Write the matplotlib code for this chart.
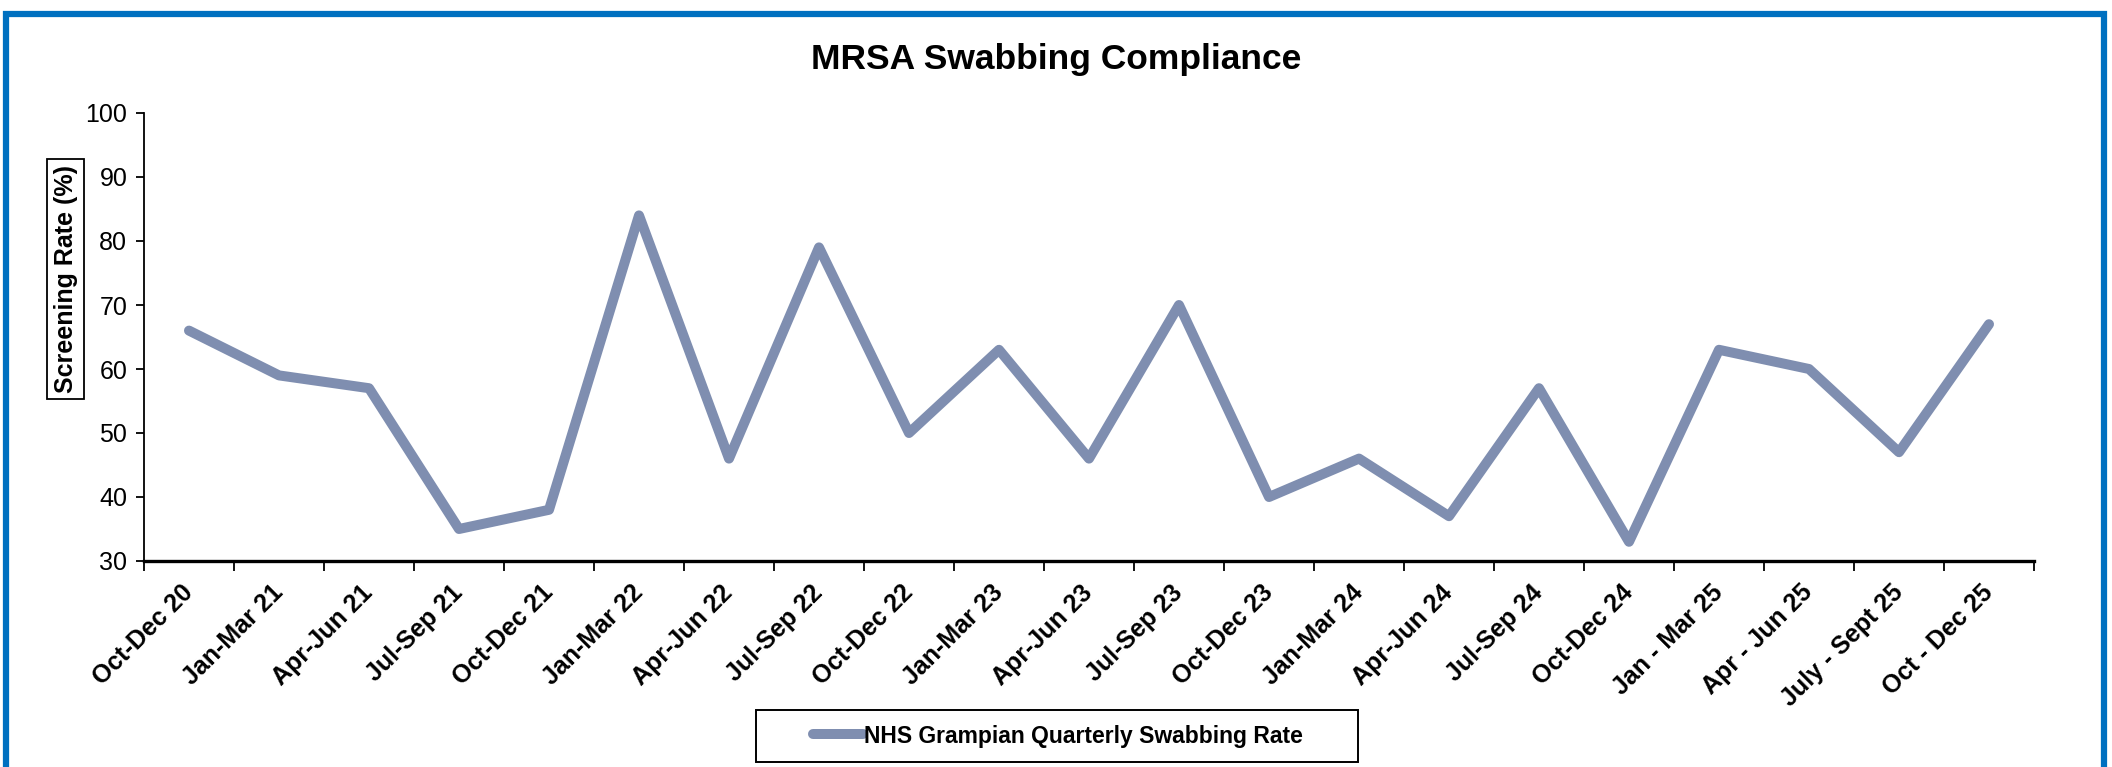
import numpy as np
import matplotlib
matplotlib.use("Agg")
import matplotlib.pyplot as plt
from matplotlib.patches import Rectangle


QUARTERS = [
    "Oct-Dec 20", "Jan-Mar 21", "Apr-Jun 21", "Jul-Sep 21", "Oct-Dec 21",
    "Jan-Mar 22", "Apr-Jun 22", "Jul-Sep 22", "Oct-Dec 22", "Jan-Mar 23",
    "Apr-Jun 23", "Jul-Sep 23", "Oct-Dec 23", "Jan-Mar 24", "Apr-Jun 24",
    "Jul-Sep 24", "Oct-Dec 24", "Jan - Mar 25", "Apr - Jun 25",
    "July - Sept 25", "Oct - Dec 25",
]

SWAB_RATE = [66, 59, 57, 35, 38, 84, 46, 79, 50, 63, 46, 70, 40, 46, 37, 57, 33, 63, 60, 47, 67]

Y_TICKS = [30, 40, 50, 60, 70, 80, 90, 100]

LINE_COLOR = "#7F8EB0"
FRAME_COLOR = "#0070C0"

plt.rcParams["font.family"] = ["Liberation Sans", "DejaVu Sans"]


def main():
    fig = plt.figure(figsize=(21.12, 7.67), dpi=100)
    ax = fig.add_axes([144 / 2112, 1 - 561 / 767, (2034 - 144) / 2112, (561 - 113) / 767])

    x = np.arange(len(QUARTERS))
    ax.plot(x, SWAB_RATE, color=LINE_COLOR, linewidth=7.2,
            solid_joinstyle="round", solid_capstyle="round",
            label="NHS Grampian Quarterly Swabbing Rate")

    ax.set_xlim(-0.5, len(QUARTERS) - 0.5)
    ax.set_ylim(30, 100)
    ax.set_yticks(Y_TICKS)
    ax.tick_params(axis="y", labelsize=18, length=6, width=1.3, pad=6)

    # excel style category axis: ticks between categories, labels on centres
    ax.set_xticks(np.arange(-0.5, len(QUARTERS), 1))
    ax.set_xticklabels([])
    ax.set_xticks(x, minor=True)
    ax.set_xticklabels(QUARTERS, minor=True, rotation=45, ha="right",
                       va="center", rotation_mode="anchor",
                       fontsize=18, fontweight="bold")
    ax.tick_params(axis="x", which="major", length=7, width=1.3)
    ax.tick_params(axis="x", which="minor", length=0, pad=20)

    for side in ["top", "right"]:
        ax.spines[side].set_visible(False)
    ax.spines["left"].set_linewidth(1.3)
    ax.spines["bottom"].set_linewidth(2.4)

    fig.text(0.5, 1 - 60 / 767, "MRSA Swabbing Compliance", ha="center",
             va="center", fontsize=25.5, fontweight="bold")

    fig.text(65.5 / 2112, 1 - 279 / 767, "Screening Rate (%)", rotation=90,
             ha="center", va="center", fontsize=18, fontweight="bold",
             bbox=dict(boxstyle="square,pad=0.25", fc="white", ec="black", lw=1.3))

    leg = fig.legend(loc="center", bbox_to_anchor=(1058 / 2112, 1 - 736 / 767),
                     frameon=False, prop={"size": 16.5, "weight": "bold"},
                     handlelength=2.2, handletextpad=0.05, borderaxespad=0)
    leg.set_in_layout(False)

    legend_box = Rectangle((756 / 2112, 1 - 762 / 767), (1358 - 756) / 2112, 52 / 767,
                           transform=fig.transFigure, fill=False,
                           edgecolor="black", linewidth=1.4)
    fig.patches.append(legend_box)

    frame = Rectangle((6 / 2112, -0.1), (2104 - 6) / 2112, 1.1 - 14 / 767,
                      transform=fig.transFigure, fill=False,
                      edgecolor=FRAME_COLOR, linewidth=4.5, clip_on=False)
    fig.patches.append(frame)

    fig.savefig("out.png", dpi=100)
    plt.close(fig)


if __name__ == "__main__":
    main()
